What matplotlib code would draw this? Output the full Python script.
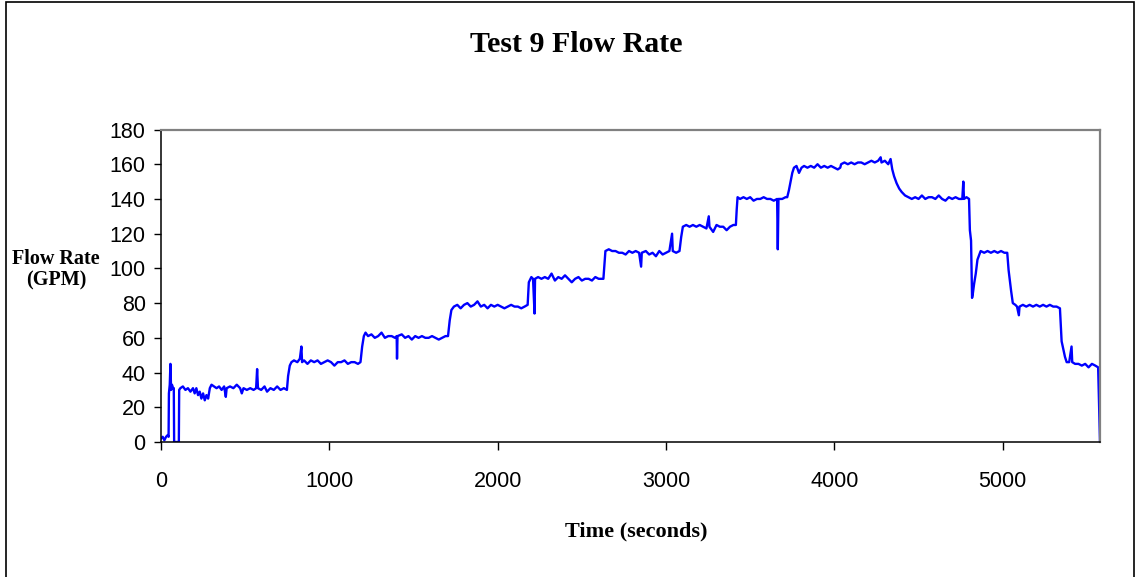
import matplotlib.pyplot as plt
from matplotlib.patches import Rectangle

# flow meter log for test 9 (seconds, GPM)
time_s = [
    0, 10, 20, 30, 40, 45, 47, 52, 56, 60, 65, 72, 76, 78, 100, 106, 108, 115,
    130, 145, 160, 175, 190, 200, 210, 220, 230, 240, 250, 260, 270, 280, 290,
    300, 315, 330, 345, 360, 375, 385, 390, 410, 430, 450, 470, 480, 490, 510,
    530, 550, 565, 571, 576, 595, 615, 630, 650, 670, 690, 710, 730, 748,
    755, 765, 775, 790, 810, 825, 834, 838, 850, 870, 890, 910, 930, 950, 970,
    990, 1010, 1030, 1050, 1070, 1090, 1110, 1130, 1150, 1170, 1185,
    1195, 1205, 1215, 1230, 1250, 1270, 1290, 1310, 1330, 1350, 1370, 1390,
    1400, 1402, 1405, 1430, 1450, 1470, 1490, 1510, 1530, 1550, 1570, 1590,
    1610, 1630, 1650, 1670, 1690, 1705,
    1715, 1725, 1740, 1760, 1780, 1800, 1820, 1840, 1860, 1880, 1900, 1920,
    1940, 1960, 1980, 2000, 2020, 2040, 2060, 2080, 2100, 2120, 2140, 2160, 2178,
    2185, 2200, 2210, 2219, 2222, 2240, 2260, 2280, 2300, 2320, 2340, 2360,
    2380, 2400, 2420, 2440, 2460, 2480, 2500, 2520, 2540, 2560, 2580, 2600, 2628,
    2635, 2640, 2660, 2680, 2700, 2720, 2740, 2760, 2780, 2800, 2820, 2840,
    2852, 2856, 2880, 2900, 2920, 2940, 2960, 2980, 3000, 3020, 3036, 3040,
    3060, 3080,
    3090, 3100, 3120, 3140, 3160, 3180, 3200, 3220, 3240, 3254, 3258, 3280,
    3300, 3320, 3340, 3360, 3380, 3400, 3415,
    3420, 3425, 3440, 3460, 3480, 3500, 3520, 3540, 3560, 3580, 3600, 3620,
    3640, 3660, 3664, 3668, 3690, 3710, 3720,
    3730, 3740, 3750, 3760, 3775, 3790, 3805, 3820, 3840, 3860, 3880, 3900,
    3920, 3940, 3960, 3980, 4000, 4020, 4035, 4040, 4060, 4080, 4100, 4120,
    4140, 4160, 4180, 4200, 4220, 4240, 4260, 4275, 4280, 4300, 4320, 4334,
    4344, 4355, 4370, 4385, 4400, 4420, 4440, 4460, 4480, 4500, 4520, 4540,
    4560, 4580, 4600, 4620, 4640, 4660, 4680, 4700, 4720, 4740, 4760, 4766,
    4770, 4785, 4800,
    4805, 4812, 4818, 4822, 4830, 4840, 4850, 4869, 4890, 4910, 4930, 4950,
    4970, 4990, 5010, 5027,
    5035, 5050, 5060, 5075, 5085, 5096, 5100, 5120, 5140, 5160, 5180, 5200,
    5220, 5240, 5260, 5280, 5300, 5320, 5340,
    5350, 5370, 5380, 5395, 5409, 5413, 5430, 5450, 5470, 5490, 5510, 5530,
    5550, 5567, 5578,
]
flow_gpm = [
    2, 3, 1, 3, 4, 3, 28, 33, 45, 30, 33, 31, 31, 0, 0, 0, 30, 31,
    32, 30, 31, 29, 31, 28, 31, 27, 29, 25, 28, 24, 27, 25, 31,
    33, 32, 31, 32, 30, 32, 26, 31, 32, 31, 33, 31, 28, 31, 30,
    31, 30, 31, 42, 31, 30, 32, 29, 31, 30, 32, 30, 31, 30,
    38, 44, 46, 47, 46, 48, 55, 46, 47, 45, 47, 46, 47, 45, 46,
    47, 46, 44, 46, 46, 47, 45, 46, 46, 45, 46,
    55, 61, 63, 61, 62, 60, 61, 63, 60, 61, 61, 60,
    61, 48, 61, 62, 60, 61, 59, 61, 60, 61, 60, 60,
    61, 60, 59, 60, 61, 61,
    70, 76, 78, 79, 77, 79, 80, 78, 79, 81, 78, 79,
    77, 79, 78, 79, 78, 77, 78, 79, 78, 78, 77, 78, 79,
    92, 95, 94, 74, 94, 95, 94, 95, 94, 97, 93, 95,
    94, 96, 94, 92, 94, 95, 93, 94, 94, 93, 95, 94, 94,
    103, 110, 111, 110, 110, 109, 109, 108, 110, 109, 110, 109,
    101, 109, 110, 108, 109, 107, 110, 108, 109, 110, 120, 110,
    109, 110,
    118, 124, 125, 124, 125, 124, 125, 124, 123, 130, 124, 121,
    125, 124, 124, 122, 124, 125, 125,
    134, 141, 140, 141, 140, 141, 139, 140, 140, 141, 140, 140,
    139, 140, 111, 140, 140, 141, 141,
    145, 150, 155, 158, 159, 155, 158, 159, 158, 159, 158, 160,
    158, 159, 158, 159, 158, 157, 158, 160, 161, 160, 161, 160,
    161, 161, 160, 161, 162, 161, 162, 164, 161, 162, 160, 163,
    157, 153, 149, 146, 144, 142, 141, 140, 141, 140, 142, 140,
    141, 141, 140, 142, 140, 139, 141, 140, 141, 140, 140, 150,
    140, 141, 140,
    122, 116, 83, 85, 91, 97, 105, 110, 109, 110, 109, 110,
    109, 110, 109, 109,
    99, 87, 80, 79, 78, 73, 78, 79, 78, 79, 78, 79,
    78, 79, 78, 79, 78, 78, 77,
    58, 49, 46, 46, 55, 46, 45, 45, 44, 45, 43, 45,
    44, 43, 0,
]

x_ticks = [0, 1000, 2000, 3000, 4000, 5000]
y_ticks = [0, 20, 40, 60, 80, 100, 120, 140, 160, 180]

serif = ['Liberation Serif', 'DejaVu Serif']
plt.rcParams['font.family'] = ['Liberation Sans', 'DejaVu Sans']

fig = plt.figure(figsize=(11.35, 5.77), dpi=100)
ax = fig.add_axes([161 / 1135, 1 - 442 / 577, 939 / 1135, 312.5 / 577])

ax.plot(time_s, flow_gpm, color='#0000ff', linewidth=1.7)

ax.set_xlim(0, 5578)
ax.set_ylim(0, 180)
ax.set_xticks(x_ticks)
ax.set_yticks(y_ticks)
ax.tick_params(axis='y', direction='out', length=5, width=1, pad=6, labelsize=15.5)
ax.tick_params(axis='x', direction='out', length=6, width=1, pad=15, labelsize=15.5)

for side in ['left', 'bottom']:
    ax.spines[side].set_color('black')
    ax.spines[side].set_linewidth(1.1)
for side in ['top', 'right']:
    ax.spines[side].set_color('#808080')
    ax.spines[side].set_linewidth(1.6)

# titles
fig.text(576 / 1135, 1 - 45 / 577, 'Test 9 Flow Rate', ha='center', va='center',
         fontsize=21.5, fontweight='bold', family=serif)
fig.text(636 / 1135, 1 - 531 / 577, 'Time (seconds)', ha='center', va='center',
         fontsize=16, fontweight='bold', family=serif)
fig.text(56 / 1135, 1 - 270 / 577, 'Flow Rate\n(GPM)', ha='center', va='center',
         fontsize=14.5, fontweight='bold', family=serif, linespacing=1.1)

# chart border
fig.patches.append(Rectangle((6 / 1135, -0.02), 1128 / 1135, 1 - 1.7 / 577 + 0.02,
                             transform=fig.transFigure, fill=False,
                             edgecolor='black', linewidth=1.2))

fig.savefig('out.png', dpi=100)
